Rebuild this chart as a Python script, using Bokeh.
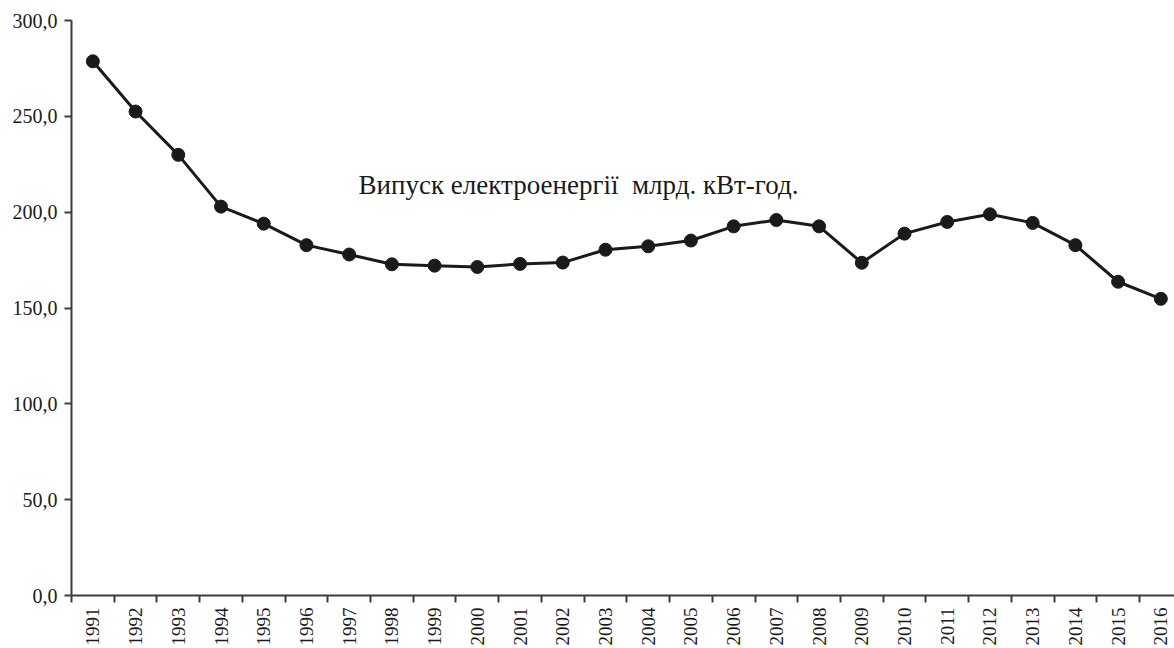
import math
from bokeh.plotting import figure
from bokeh.models import FixedTicker, Range1d, Label, ColumnDataSource
from bokeh.embed import file_html
from bokeh.resources import INLINE

years = [1991, 1992, 1993, 1994, 1995, 1996, 1997, 1998, 1999, 2000,
         2001, 2002, 2003, 2004, 2005, 2006, 2007, 2008, 2009, 2010,
         2011, 2012, 2013, 2014, 2015, 2016]
values = [278.7, 252.5, 229.9, 202.9, 194.0, 182.8, 177.9, 172.8, 172.1, 171.4,
          173.0, 173.7, 180.4, 182.2, 185.2, 192.6, 195.9, 192.6, 173.6, 188.8,
          194.9, 198.9, 194.4, 182.8, 163.7, 154.8]
y_ticks = [0, 50, 100, 150, 200, 250, 300]
y_tick_labels = ["0,0", "50,0", "100,0", "150,0", "200,0", "250,0", "300,0"]
series_label = "Випуск електроенергії\u00a0 млрд. кВт-год."

FONT = "Liberation Serif"
DARK = "#1a1a1a"
AXIS = "#3c3c3c"

xs = list(range(1, len(years) + 1))
src = ColumnDataSource(dict(x=xs, y=values))

p = figure(width=1174, height=648, output_backend="svg", toolbar_location=None,
           x_range=Range1d(0.5, 26.32), y_range=Range1d(0, 300),
           min_border_left=71, min_border_right=0, min_border_top=20,
           min_border_bottom=53)
p.outline_line_color = None
p.grid.visible = False
p.background_fill_color = "white"
p.border_fill_color = "white"

p.line("x", "y", source=src, line_color=DARK, line_width=3)
p.scatter("x", "y", source=src, size=13, fill_color=DARK, line_color=DARK)

# x axis
xa = p.xaxis[0]
xa.ticker = FixedTicker(ticks=xs, minor_ticks=[i + 0.5 for i in range(0, len(years) + 1)])
xa.major_label_overrides = {x: str(y) for x, y in zip(xs, years)}
xa.major_tick_out = 0
xa.major_tick_in = 0
xa.minor_tick_out = 7
xa.minor_tick_in = 0
xa.minor_tick_line_color = AXIS
xa.minor_tick_line_width = 2
xa.axis_line_color = AXIS
xa.axis_line_width = 2
xa.major_label_orientation = math.pi / 2
xa.major_label_text_font = FONT
xa.major_label_text_font_size = "19px"
xa.major_label_text_color = DARK
xa.major_label_standoff = 5

# y axis
ya = p.yaxis[0]
ya.ticker = FixedTicker(ticks=y_ticks, minor_ticks=[])
ya.major_label_overrides = {t: l for t, l in zip(y_ticks, y_tick_labels)}
ya.major_tick_out = 7
ya.major_tick_in = 0
ya.minor_tick_out = 0
ya.minor_tick_in = 0
ya.major_tick_line_color = AXIS
ya.major_tick_line_width = 2
ya.axis_line_color = AXIS
ya.axis_line_width = 2
ya.major_label_text_font = FONT
ya.major_label_text_font_size = "20px"
ya.major_label_text_color = DARK
ya.major_label_standoff = 7

p.add_layout(Label(x=7.22, y=214.4, text=series_label, text_font=FONT,
                   text_font_size="27px", text_color=DARK,
                   text_align="left", text_baseline="alphabetic"))

open("out.html", "w").write(file_html(p, INLINE))
